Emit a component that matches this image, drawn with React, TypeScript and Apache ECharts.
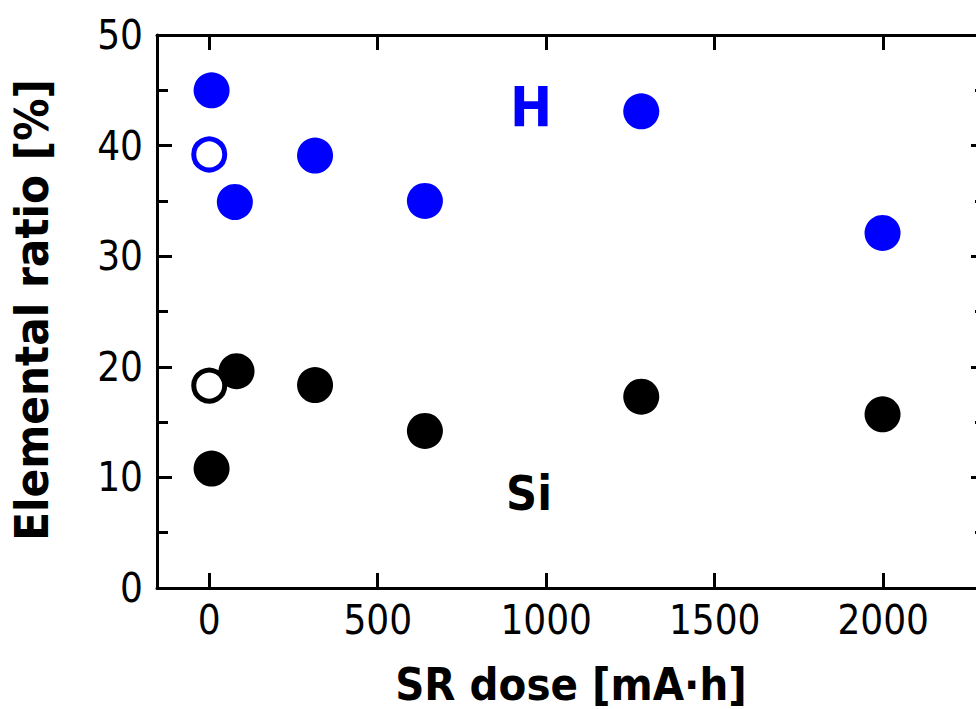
import React, { useEffect, useRef } from "react";
import * as echarts from "echarts";

const FONT = "'DejaVu Sans Condensed', 'DejaVu Sans', sans-serif";

const xTicks = [0, 500, 1000, 1500, 2000];
const yTicks = [0, 10, 20, 30, 40, 50];

const hFilledDose = [7, 76, 314, 640, 1282, 1998];
const hFilledRatio = [45.0, 34.9, 39.1, 35.0, 43.1, 32.1];
const hOpenDose = [0];
const hOpenRatio = [39.2];

const siFilledDose = [7, 81, 314, 640, 1282, 1998];
const siFilledRatio = [10.8, 19.6, 18.35, 14.2, 17.3, 15.7];
const siOpenDose = [0];
const siOpenRatio = [18.3];

const xTitle = "SR dose [mA·h]";
const yTitle = "Elemental ratio [%]";
const hLabel = "H";
const siLabel = "Si";

const zip = (a: number[], b: number[]) => a.map((v, i) => [v, b[i]]);

export default function App() {
  const ref = useRef<HTMLDivElement>(null);
  useEffect(() => {
    if (!ref.current) return;
    const chart = echarts.init(ref.current, undefined, { renderer: "svg" });
    const axisLine = { show: true, onZero: false, lineStyle: { color: "#000", width: 3 } };
    const tickStyle = { color: "#000", width: 3 };
    const plain = (v: number) => String(v);
    chart.setOption({
      animation: false,
      backgroundColor: "#fff",
      grid: { left: 157, right: 14, top: 35, bottom: 121, containLabel: false },
      xAxis: [
        {
          type: "value",
          position: "bottom",
          min: -155,
          max: 2305,
          axisLine,
          axisTick: { show: true, inside: true, length: 15, lineStyle: tickStyle, customValues: xTicks },
          axisLabel: {
            show: true,
            customValues: xTicks,
            formatter: plain,
            fontSize: 40,
            fontFamily: FONT,
            color: "#000",
            margin: 12,
          },
          splitLine: { show: false },
        },
        {
          type: "value",
          position: "top",
          min: -155,
          max: 2305,
          axisLine,
          axisTick: { show: true, inside: true, length: 15, lineStyle: tickStyle, customValues: xTicks },
          axisLabel: { show: false },
          splitLine: { show: false },
        },
      ],
      yAxis: [
        {
          type: "value",
          position: "left",
          min: yTicks[0],
          max: yTicks[yTicks.length - 1],
          interval: 10,
          axisLine,
          axisTick: { show: true, inside: true, length: 15, lineStyle: tickStyle },
          minorTick: { show: true, splitNumber: 2, length: 11, lineStyle: tickStyle },
          axisLabel: { fontSize: 40, fontFamily: FONT, color: "#000", margin: 14, formatter: plain },
          splitLine: { show: false },
        },
        {
          type: "value",
          position: "right",
          min: yTicks[0],
          max: yTicks[yTicks.length - 1],
          interval: 10,
          axisLine,
          axisTick: { show: true, inside: true, length: 15, lineStyle: tickStyle },
          minorTick: { show: true, splitNumber: 2, length: 11, lineStyle: tickStyle },
          axisLabel: { show: false },
          splitLine: { show: false },
        },
      ],
      series: [
        {
          type: "scatter",
          name: "H (open)",
          data: zip(hOpenDose, hOpenRatio),
          symbol: "circle",
          symbolSize: 31,
          itemStyle: { color: "#fff", borderColor: "#0000ff", borderWidth: 5, opacity: 1 },
        },
        {
          type: "scatter",
          name: "H",
          data: zip(hFilledDose, hFilledRatio),
          symbol: "circle",
          symbolSize: 36,
          itemStyle: { color: "#0000ff", opacity: 1 },
        },
        {
          type: "scatter",
          name: "Si (open)",
          data: zip(siOpenDose, siOpenRatio),
          symbol: "circle",
          symbolSize: 31,
          itemStyle: { color: "#fff", borderColor: "#000", borderWidth: 5, opacity: 1 },
        },
        {
          type: "scatter",
          name: "Si",
          data: zip(siFilledDose, siFilledRatio),
          symbol: "circle",
          symbolSize: 36,
          itemStyle: { color: "#000", opacity: 1 },
        },
      ],
      graphic: [
        {
          type: "text",
          x: 571,
          y: 684,
          style: {
            text: xTitle,
            font: `bold 45px ${FONT}`,
            fill: "#000",
            align: "center",
            verticalAlign: "middle",
          },
        },
        {
          type: "text",
          x: 31,
          y: 310,
          rotation: Math.PI / 2,
          style: {
            text: yTitle,
            font: `bold 47px ${FONT}`,
            fill: "#000",
            align: "center",
            verticalAlign: "middle",
          },
        },
        {
          type: "text",
          x: 531,
          y: 106,
          style: {
            text: hLabel,
            font: `bold 56px ${FONT}`,
            fill: "#0000ff",
            align: "center",
            verticalAlign: "middle",
          },
        },
        {
          type: "text",
          x: 529,
          y: 493,
          style: {
            text: siLabel,
            font: `bold 48px ${FONT}`,
            fill: "#000",
            align: "center",
            verticalAlign: "middle",
          },
        },
      ],
    });
    return () => chart.dispose();
  }, []);
  return (
    <div style={{ width: 976, height: 709, position: "absolute", left: 0, top: 0, overflow: "hidden" }}>
      <div ref={ref} style={{ width: 1000, height: 709 }} />
    </div>
  );
}
